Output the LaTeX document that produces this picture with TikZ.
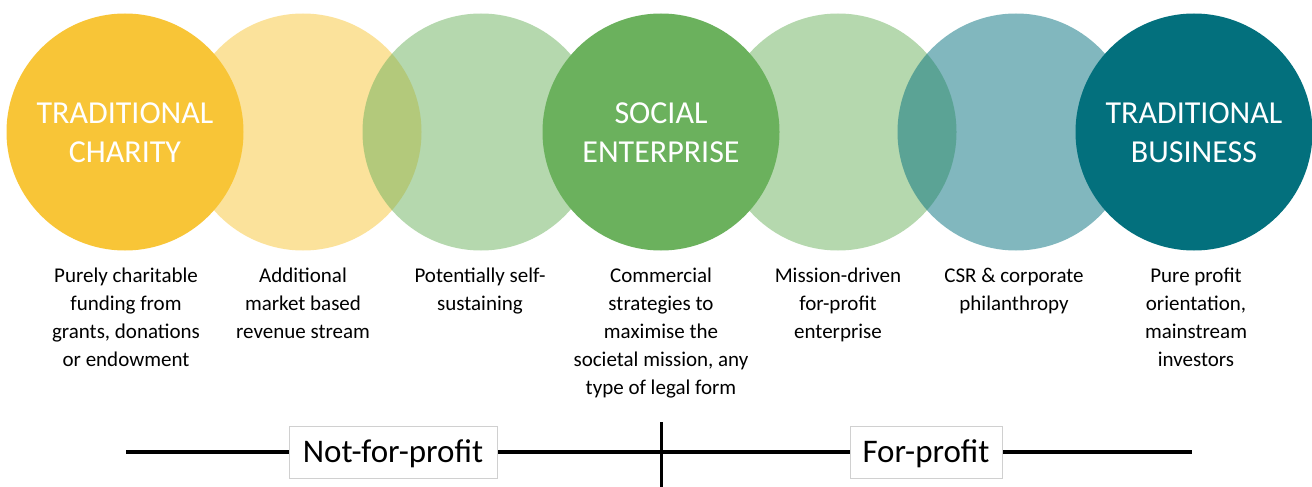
\documentclass[tikz,border=0pt]{standalone}
\usepackage{fontspec}
\setmainfont{Carlito}
\definecolor{charityY}{HTML}{F8C537}
\definecolor{socialG}{HTML}{6BB15D}
\definecolor{businessT}{HTML}{03707D}
\definecolor{rulegray}{HTML}{D0D0D0}
% stacked, centred lines whose reference point is the first baseline
\newcommand{\linestack}[1]{\begin{tabular}[t]{@{}c@{}}#1\end{tabular}}
\begin{document}
\begin{tikzpicture}[x=1pt,y=-1pt,
  disc/.style={circle,minimum size=237pt,inner sep=0pt,draw=none},
  solid disc/.style={disc,fill=#1},
  faint disc/.style={disc,fill=#1,fill opacity=0.5},
  title/.style={text=white,inner sep=0pt,anchor=base,font=\fontsize{32}{39}\selectfont},
  desc/.style={text=black,inner sep=0pt,anchor=base,font=\fontsize{21}{28}\selectfont},
  sector/.style={draw=rulegray,line width=0.6pt,fill=white,inner sep=0pt,
    text height=21pt,text depth=0pt,
    minimum height=52pt,font=\fontsize{33}{39}\selectfont},
  axis/.style={line width=3.5pt,black}]
\useasboundingbox (0,0) rectangle (1312,487);

% translucent in-between stages first, solid anchors on top
\node[faint disc=charityY] (c2) at (303,132) {};
\node[faint disc=socialG] (c3) at (481,132) {};
\node[solid disc=charityY] (c1) at (125,132) {};
\node[solid disc=socialG] (c4) at (661,132) {};
\node[faint disc=socialG] (c5) at (838,132) {};
\node[faint disc=businessT] (c6) at (1016,132) {};
\node[solid disc=businessT] (c7) at (1194,132) {};

% stage titles
\node[title] (t1) at (125,123) {\linestack{TRADITIONAL\\CHARITY}};
\node[title] (t4) at (661,123) {\linestack{SOCIAL\\ENTERPRISE}};
\node[title] (t7) at (1194,123) {\linestack{TRADITIONAL\\BUSINESS}};

% descriptions under each stage
\node[desc] (d1) at (126,282) {\linestack{Purely charitable\\funding from\\grants, donations\\or endowment}};
\node[desc] (d2) at (303,282) {\linestack{Additional\\market based\\revenue stream}};
\node[desc] (d3) at (480,282) {\linestack{Potentially self-\\sustaining}};
\node[desc] (d4) at (661,282) {\linestack{Commercial\\strategies to\\maximise the\\societal mission, any\\type of legal form}};
\node[desc] (d5) at (838,282) {\linestack{Mission-driven\\for-profit\\enterprise}};
\node[desc] (d6) at (1014,282) {\linestack{CSR \& corporate\\philanthropy}};
\node[desc] (d7) at (1196,282) {\linestack{Pure profit\\orientation,\\mainstream\\investors}};

% spectrum axis
\coordinate (axL) at (126,452);
\coordinate (axR) at (1192,452);
\coordinate (divT) at (661,422);
\coordinate (divB) at (661,487);
\draw[axis] (axL) -- (axR);
\draw[axis,line width=3pt] (divT) -- (divB);
\node[sector,minimum width=208pt] (nfp) at (393,452) {Not-for-profit};
\node[sector,minimum width=152pt] (fp) at (926,452) {For-profit};
\end{tikzpicture}
\end{document}
